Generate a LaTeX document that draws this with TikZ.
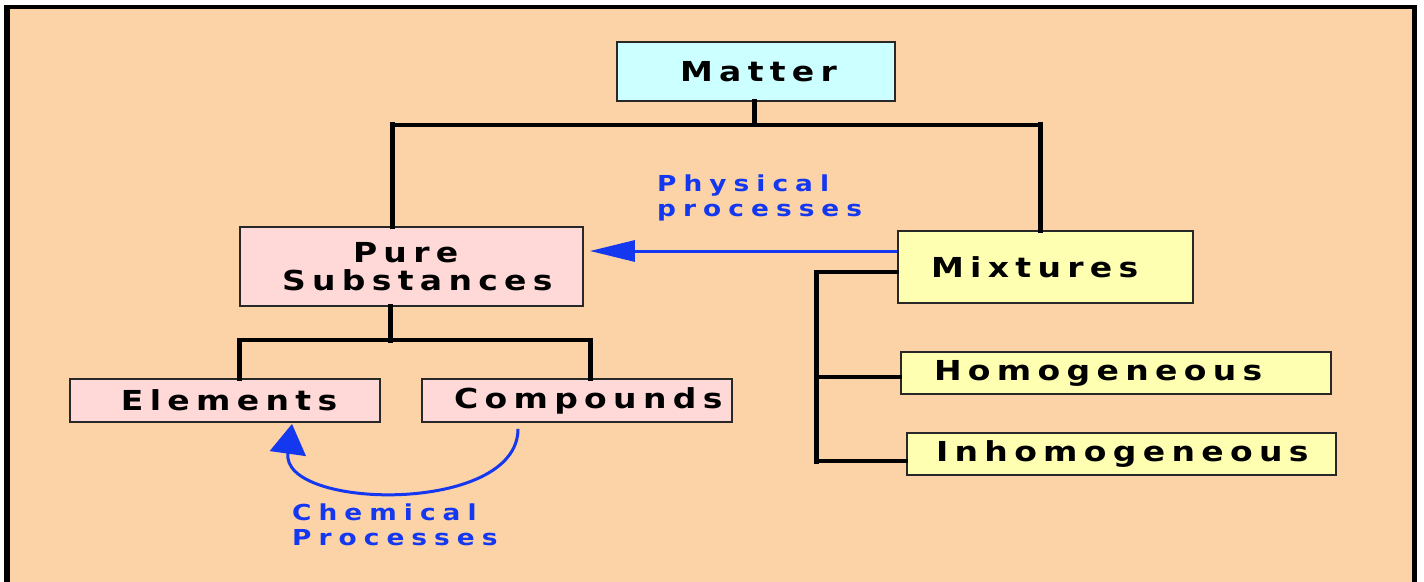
\documentclass[tikz,border=0pt]{standalone}
\usepackage{fontspec}
\usetikzlibrary{arrows.meta}
\newfontfamily\boxface{DejaVu Sans}[LetterSpace=23,FakeStretch=1.2]
\newfontfamily\blueface{DejaVu Sans}[LetterSpace=32,FakeStretch=1.2]
\newcommand\boxtxt{\boxface\bfseries\fontsize{27.5bp}{28bp}\selectfont}
\newcommand\bluetxt{\blueface\bfseries\fontsize{22bp}{25bp}\selectfont}
\definecolor{bgpeach}{RGB}{252,211,166}
\definecolor{cyanfill}{RGB}{204,255,255}
\definecolor{pinkfill}{RGB}{255,216,216}
\definecolor{yellowfill}{RGB}{255,255,178}
\definecolor{bluec}{RGB}{20,55,240}
\definecolor{boxline}{RGB}{40,40,40}
\begin{document}
\begin{tikzpicture}[x=1bp,y=-1bp,
  box/.style={draw=boxline, line width=1.8bp, inner xsep=0pt, inner ysep=0pt, align=left, font=\boxtxt, text=black},
  vline/.style={draw=black, line width=5bp, line cap=rect},
  hline/.style={draw=black, line width=3.5bp, line cap=rect},
  blueline/.style={draw=bluec, line width=3bp},
  bluelabel/.style={font=\bluetxt, text=bluec, align=left, inner sep=0pt, anchor=north west}]
\useasboundingbox (0,0) rectangle (1424,582);
\fill[white] (0,0) rectangle (1424,582);
\fill[black] (4,5) rectangle (1417,582);
\fill[bgpeach] (10,9) rectangle (1412,582);

% boxes
\node[box, fill=cyanfill, text width=278bp, minimum height=59bp] (matter) at (756,71.5) {\hspace*{63bp}\mbox{Matter}};
\node[box, fill=pinkfill, text width=343bp, minimum height=79bp] (pure) at (411.5,266.5) {\hspace*{113bp}\mbox{Pure}\\\hspace*{42bp}\mbox{Substances}};
\node[box, fill=yellowfill, text width=295bp, minimum height=72bp] (mixtures) at (1045.5,267) {\hspace*{33bp}\mbox{Mixtures}};
\node[box, fill=pinkfill, text width=310bp, minimum height=43bp] (elements) at (225,400.5) {\hspace*{51bp}\mbox{Elements}};
\node[box, fill=pinkfill, text width=310bp, minimum height=43bp] (compounds) at (577,400.5) {\hspace*{32bp}\mbox{Compounds}};
\node[box, fill=yellowfill, text width=430bp, minimum height=42bp] (homog) at (1116,373) {\hspace*{33bp}\mbox{Homogeneous}};
\node[box, fill=yellowfill, text width=429bp, minimum height=42bp] (inhomog) at (1121.5,454) {\hspace*{29bp}\mbox{Inhomogeneous}};

% junctions
\coordinate (jm) at (754,125);
\coordinate (jl) at (392,125);
\coordinate (jr) at (1040,125);
\coordinate (jp) at (390,340);
\coordinate (je) at (239,340);
\coordinate (jc) at (590,340);
\coordinate (jx) at (816,272);
\coordinate (jh) at (816,377);
\coordinate (ji) at (816,461);

% tree connectors
\draw[vline] (jm |- matter.south) -- (jm);
\draw[hline] (jl) -- (jr);
\draw[vline] (jl) -- (jl |- pure.north);
\draw[vline] (jr) -- (jr |- mixtures.north);
\draw[vline] (jp |- pure.south) -- (jp);
\draw[hline] (je) -- (jc);
\draw[vline] (je) -- (je |- elements.north);
\draw[vline] (jc) -- (jc |- compounds.north);
\draw[hline] (mixtures.west |- jx) -- (jx);
\draw[vline] (jx) -- (ji);
\draw[hline] (jh) -- (homog.west |- jh);
\draw[hline] (ji) -- (inhomog.west |- ji);

% physical processes arrow
\coordinate (py) at (0,251);
\draw[blueline, shorten >=6bp, -{Triangle[length=45bp,width=21bp]}] (mixtures.west |- py) -- (pure.east |- py);
\node[bluelabel] (phys) at (657,175) {Physical\\processes};

% chemical processes arc
\draw[blueline, -{Triangle[length=30bp,width=36bp]}] ([shift={(-59,6)}]compounds.south) .. controls (518,515) and (280,510) .. ([shift={(67,1)}]elements.south);
\node[bluelabel] (chem) at (292,504) {Chemical\\Processes};
\end{tikzpicture}
\end{document}
